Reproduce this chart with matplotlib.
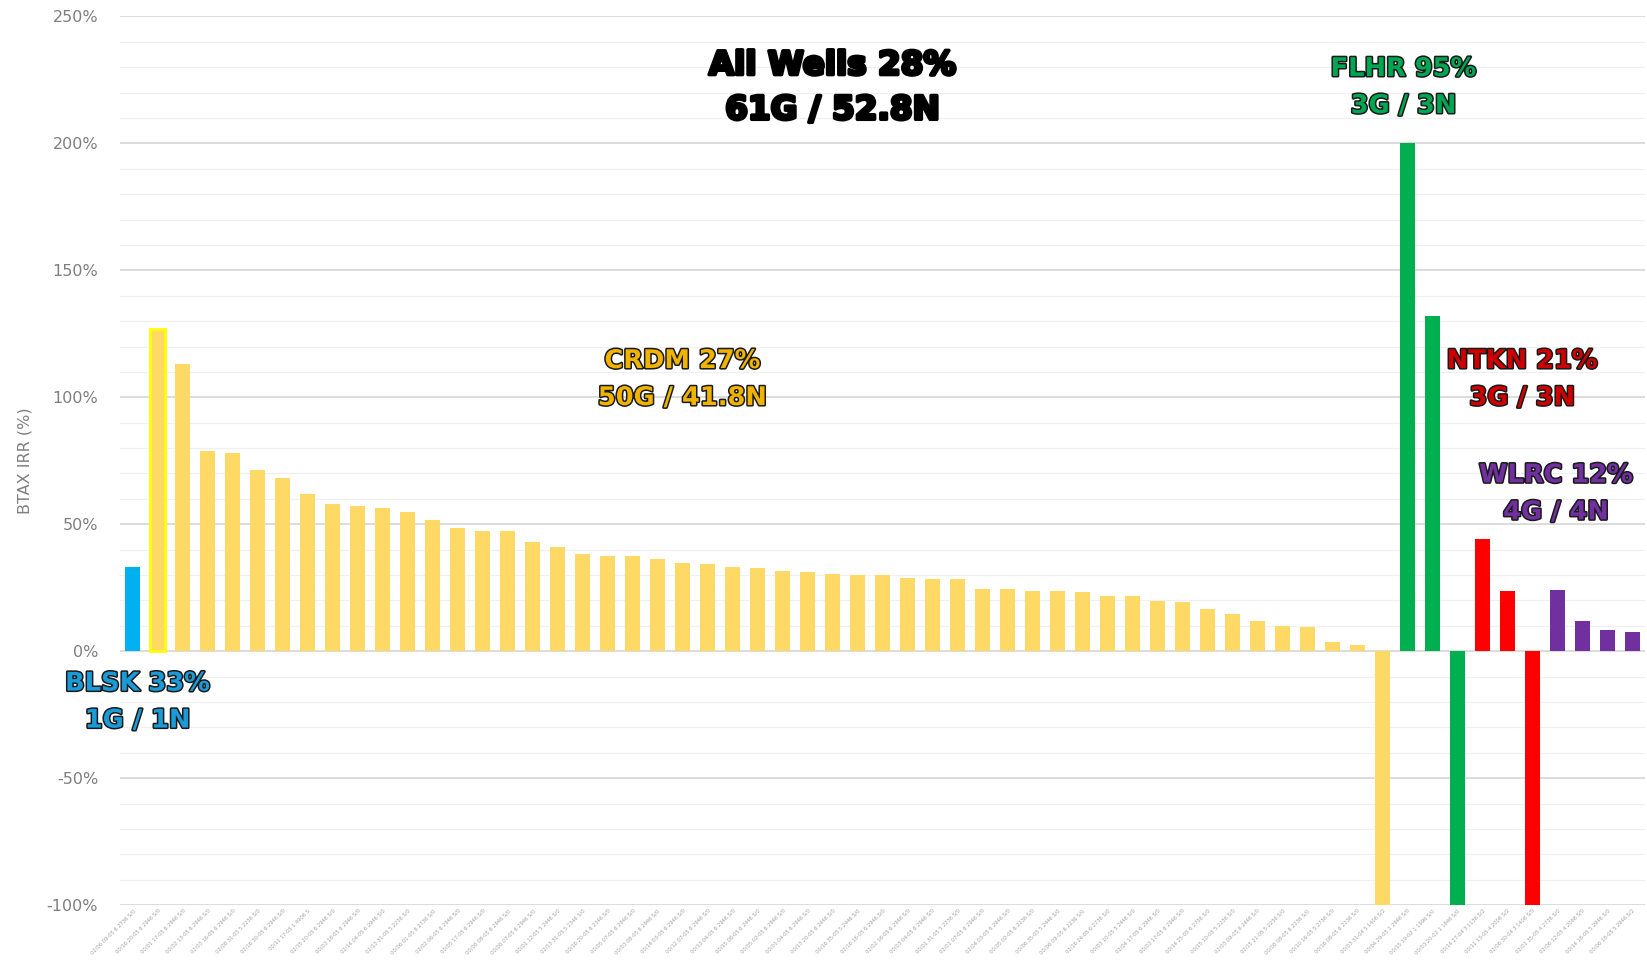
import matplotlib
matplotlib.use("Agg")
import matplotlib.pyplot as plt
import matplotlib.patheffects as pe
import numpy as np

# BTAX IRR per well, grouped by area (values in %)
blsk = [33.0]
crdm = [126.8, 113.3, 78.9, 78.0, 71.4, 68.1, 62.1, 57.9, 57.1, 56.3,
        54.7, 51.8, 48.6, 47.4, 47.4, 43.0, 41.1, 38.2, 37.4, 37.4,
        36.2, 34.9, 34.4, 33.2, 32.6, 31.6, 31.2, 30.6, 30.0, 30.0,
        28.7, 28.3, 28.3, 24.7, 24.7, 23.9, 23.9, 23.5, 21.8, 21.8,
        19.8, 19.4, 16.8, 14.8, 11.9, 9.9, 9.5, 3.8, 2.4, -100.0]
flhr = [200.0, 132.1, -100.0]
ntkn = [44.3, 23.6, -100.0]
wlrc = [24.2, 11.8, 8.4, 7.7]

groups = ["BLSK", "CRDM", "FLHR", "NTKN", "WLRC"]
group_values = [blsk, crdm, flhr, ntkn, wlrc]
group_colors = ["#00B0F0", "#FFD966", "#00B050", "#FF0000", "#7030A0"]

well_labels = [
    "02/06 09-05 6 2736 S/0", "00/16 20-05 6 2946 S/0", "00/01 17-05 6 2946 S/0",
    "00/02 13-05 6 2946 S/0", "02/03 16-05 6 2946 S/0", "02/08 31-05 5 2236 S/0",
    "02/16 30-05 6 2946 S/0", "00/11 17-05 1 4906 S", "02/15 20-05 6 2946 S/0",
    "00/03 18-05 6 2946 S/0", "02/14 04-05 6 2946 S/0", "02/13 31-05 5 2236 S/0",
    "00/06 01-05 6 2736 S/0", "02/02 06-05 6 2946 S/0", "00/05 17-05 6 2946 S/0",
    "00/08 08-05 6 2946 S/0", "00/08 07-05 6 2946 S/0", "00/01 12-05 5 2446 S/0",
    "02/13 31-05 5 2346 S/0", "00/16 20-05 6 2346 S/0", "00/05 07-05 6 2946 S/0",
    "00/03 08-05 6 2946 S/0", "00/14 03-05 6 2946 S/0", "00/12 07-05 6 2946 S/0",
    "00/13 04-05 6 2946 S/0", "00/15 08-05 6 2446 S/0", "00/05 02-05 6 2946 S/0",
    "00/01 04-05 6 2946 S/0", "00/13 20-05 6 2446 S/0", "00/16 35-05 5 2446 S/0",
    "02/16 18-05 6 2946 S/0", "02/02 16-05 6 2946 S/0", "00/03 04-05 6 2946 S/0",
    "00/01 31-05 5 2236 S/0", "02/01 07-05 6 2946 S/0", "02/04 03-05 6 2946 S/0",
    "00/05 02-05 6 2236 S/0", "00/06 35-05 5 2446 S/0", "00/06 09-05 6 2236 S/0",
    "02/16 24-05 6 2736 S/0", "00/03 10-05 5 2446 S/0", "02/04 17-05 6 2946 S/0",
    "00/03 17-05 6 2946 S/0", "00/14 25-05 6 2736 S/0", "00/15 10-05 5 2236 S/0",
    "02/03 09-05 6 2446 S/0", "02/15 21-05 5 2236 S/0", "00/08 08-05 6 2236 S/0",
    "00/10 16-05 5 2736 S/0", "00/16 08-05 6 2236 S/0", "00/03 31-04 5 1406 S/2",
    "00/04 29-05 1 2946 S/0", "00/15 19-02 1 1996 S/0", "00/03 20-02 1 1846 S/0",
    "00/14 27-04 3 1136 S/2", "00/11 13-05 4 2006 S/2", "02/06 30-04 3 1406 S/0",
    "02/01 35-05 4 2736 S/0", "02/06 12-05 4 2066 S/0", "00/14 18-05 5 2946 S/0",
    "00/06 18-05 5 2946 S/2",
]

# group annotations: text, x (bar index), y (%), fill colour
annot_text = ["All Wells 28%\n61G / 52.8N", "BLSK 33%\n1G / 1N", "CRDM 27%\n50G / 41.8N",
              "FLHR 95%\n3G / 3N", "NTKN 21%\n3G / 3N", "WLRC 12%\n4G / 4N"]
annot_x = [28.0, 0.2, 22.0, 50.85, 55.6, 56.95]
annot_y = [222, -20, 107, 222, 107, 62]
annot_color = ["#000000", "#1A9BD7", "#F0B400", "#00A651", "#D00000", "#7030A0"]

fig = plt.figure(figsize=(16.47, 9.61), dpi=100)
ax = fig.add_axes([0.073, 0.058, 0.926, 0.925])

start = 0
for name, vals, col in zip(groups, group_values, group_colors):
    x = np.arange(start, start + len(vals))
    ax.bar(x, vals, width=0.6, color=col, zorder=3)
    start += len(vals)

# highlighted best CRDM well
best = ax.patches[1]
best.set_edgecolor("#FFFF00")
best.set_linewidth(2)

ax.set_xlim(-0.5, start - 0.48)
ax.set_ylim(-100, 250)
ax.set_yticks(np.arange(-100, 251, 50))
ax.set_yticks(np.arange(-100, 251, 10), minor=True)
ax.set_yticklabels([f"{v}%" for v in range(-100, 251, 50)], color="#7F7F7F", fontsize=11.5)
ax.tick_params(axis="y", which="both", length=0, pad=16)
ax.grid(axis="y", which="major", color="#D9D9D9", lw=1.3, zorder=0)
ax.grid(axis="y", which="minor", color="#F0F0F0", lw=0.9, zorder=0)
for s in ax.spines.values():
    s.set_visible(False)

ax.set_xticks(np.arange(start))
ax.set_xticklabels(well_labels, rotation=45, ha="right", rotation_mode="anchor",
                   fontsize=3.7, color="#A0A0A0")
ax.tick_params(axis="x", length=0, pad=2)

ax.set_ylabel("BTAX IRR (%)", color="#7F7F7F", fontsize=11.5, labelpad=10)

for i, (t, x, y, c) in enumerate(zip(annot_text, annot_x, annot_y, annot_color)):
    if i == 0:
        ax.text(x, y, t, ha="center", va="center", fontsize=23.5, fontweight="bold",
                color=c, linespacing=1.45, zorder=5,
                path_effects=[pe.withStroke(linewidth=2.5, foreground="#000000")])
    else:
        ax.text(x, y, t, ha="center", va="center", fontsize=18.5, fontweight="bold",
                color=c, linespacing=1.55, zorder=5,
                path_effects=[pe.withStroke(linewidth=2.2, foreground="#1A1A1A")])

fig.savefig("out.png", dpi=100)
